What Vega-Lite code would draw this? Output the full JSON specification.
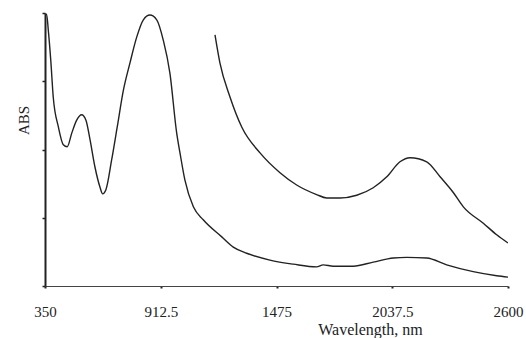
{
  "$schema": "https://vega.github.io/schema/vega-lite/v6.json",
  "autosize": "none",
  "padding": {"left": 45, "top": 13, "right": 18, "bottom": 52},
  "width": 463,
  "height": 273,
  "background": "white",
  "data": {
    "values": [
      {"wavelength": 350, "abs": 3.98, "series": "A"},
      {"wavelength": 358, "abs": 3.98, "series": "A"},
      {"wavelength": 366, "abs": 3.75, "series": "A"},
      {"wavelength": 378, "abs": 3.31, "series": "A"},
      {"wavelength": 390, "abs": 2.77, "series": "A"},
      {"wavelength": 415, "abs": 2.33, "series": "A"},
      {"wavelength": 439, "abs": 2.07, "series": "A"},
      {"wavelength": 458, "abs": 2.04, "series": "A"},
      {"wavelength": 480, "abs": 2.24, "series": "A"},
      {"wavelength": 504, "abs": 2.43, "series": "A"},
      {"wavelength": 528, "abs": 2.51, "series": "A"},
      {"wavelength": 549, "abs": 2.43, "series": "A"},
      {"wavelength": 569, "abs": 2.14, "series": "A"},
      {"wavelength": 593, "abs": 1.74, "series": "A"},
      {"wavelength": 617, "abs": 1.45, "series": "A"},
      {"wavelength": 630, "abs": 1.35, "series": "A"},
      {"wavelength": 646, "abs": 1.41, "series": "A"},
      {"wavelength": 674, "abs": 1.85, "series": "A"},
      {"wavelength": 701, "abs": 2.33, "series": "A"},
      {"wavelength": 731, "abs": 2.87, "series": "A"},
      {"wavelength": 763, "abs": 3.27, "series": "A"},
      {"wavelength": 796, "abs": 3.65, "series": "A"},
      {"wavelength": 828, "abs": 3.9, "series": "A"},
      {"wavelength": 860, "abs": 3.97, "series": "A"},
      {"wavelength": 893, "abs": 3.9, "series": "A"},
      {"wavelength": 925, "abs": 3.6, "series": "A"},
      {"wavelength": 957, "abs": 3.12, "series": "A"},
      {"wavelength": 990, "abs": 2.24, "series": "A"},
      {"wavelength": 1006, "abs": 1.95, "series": "A"},
      {"wavelength": 1030, "abs": 1.55, "series": "A"},
      {"wavelength": 1071, "abs": 1.16, "series": "A"},
      {"wavelength": 1119, "abs": 0.97, "series": "A"},
      {"wavelength": 1209, "abs": 0.72, "series": "A"},
      {"wavelength": 1265, "abs": 0.57, "series": "A"},
      {"wavelength": 1330, "abs": 0.48, "series": "A"},
      {"wavelength": 1443, "abs": 0.38, "series": "A"},
      {"wavelength": 1557, "abs": 0.32, "series": "A"},
      {"wavelength": 1670, "abs": 0.28, "series": "A"},
      {"wavelength": 1702, "abs": 0.31, "series": "A"},
      {"wavelength": 1751, "abs": 0.29, "series": "A"},
      {"wavelength": 1848, "abs": 0.29, "series": "A"},
      {"wavelength": 1945, "abs": 0.35, "series": "A"},
      {"wavelength": 2043, "abs": 0.41, "series": "A"},
      {"wavelength": 2108, "abs": 0.42, "series": "A"},
      {"wavelength": 2205, "abs": 0.41, "series": "A"},
      {"wavelength": 2302, "abs": 0.31, "series": "A"},
      {"wavelength": 2431, "abs": 0.21, "series": "A"},
      {"wavelength": 2545, "abs": 0.15, "series": "A"},
      {"wavelength": 2600, "abs": 0.13, "series": "A"},
      {"wavelength": 1176, "abs": 3.68, "series": "B"},
      {"wavelength": 1200, "abs": 3.27, "series": "B"},
      {"wavelength": 1249, "abs": 2.77, "series": "B"},
      {"wavelength": 1306, "abs": 2.33, "series": "B"},
      {"wavelength": 1395, "abs": 1.95, "series": "B"},
      {"wavelength": 1492, "abs": 1.66, "series": "B"},
      {"wavelength": 1573, "abs": 1.48, "series": "B"},
      {"wavelength": 1670, "abs": 1.34, "series": "B"},
      {"wavelength": 1719, "abs": 1.29, "series": "B"},
      {"wavelength": 1784, "abs": 1.29, "series": "B"},
      {"wavelength": 1865, "abs": 1.33, "series": "B"},
      {"wavelength": 1945, "abs": 1.44, "series": "B"},
      {"wavelength": 2011, "abs": 1.6, "series": "B"},
      {"wavelength": 2075, "abs": 1.82, "series": "B"},
      {"wavelength": 2124, "abs": 1.88, "series": "B"},
      {"wavelength": 2205, "abs": 1.82, "series": "B"},
      {"wavelength": 2270, "abs": 1.6, "series": "B"},
      {"wavelength": 2334, "abs": 1.37, "series": "B"},
      {"wavelength": 2383, "abs": 1.16, "series": "B"},
      {"wavelength": 2480, "abs": 0.92, "series": "B"},
      {"wavelength": 2545, "abs": 0.75, "series": "B"},
      {"wavelength": 2600, "abs": 0.63, "series": "B"}
    ]
  },
  "mark": {"type": "line", "interpolate": "monotone", "color": "#222222", "strokeWidth": 1.4, "clip": true},
  "encoding": {
    "x": {
      "field": "wavelength",
      "type": "quantitative",
      "scale": {"domain": [350, 2600], "nice": false, "zero": false},
      "axis": {
        "values": [350, 912.5, 1475, 2037.5, 2600],
        "labelExpr": "datum.value + ''",
        "grid": false,
        "title": "Wavelength, nm",
        "titleFont": "Liberation Serif",
        "titleFontSize": 16,
        "titleFontWeight": "normal",
        "titleColor": "#222222",
        "titleAnchor": "start",
        "titleAlign": "center",
        "titleX": 325,
        "titleY": 43,
        "titleBaseline": "middle",
        "labelFont": "Liberation Serif",
        "labelFontSize": 15,
        "labelColor": "#222222",
        "labelPadding": 16,
        "labelOverlap": false,
        "labelFlush": false,
        "domainColor": "#444444",
        "domainWidth": 1,
        "tickColor": "#222222",
        "tickSize": 2,
        "tickWidth": 2
      }
    },
    "y": {
      "field": "abs",
      "type": "quantitative",
      "scale": {"domain": [0, 4], "nice": false},
      "axis": {
        "values": [0, 1, 2, 3, 4],
        "labels": false,
        "grid": false,
        "title": "ABS",
        "titleFont": "Liberation Serif",
        "titleFontSize": 15,
        "titleFontWeight": "normal",
        "titleColor": "#222222",
        "titleX": -22,
        "titleY": 107,
        "titleAngle": -90,
        "titleAlign": "center",
        "titleBaseline": "middle",
        "domainColor": "#222222",
        "domainWidth": 2,
        "tickColor": "#222222",
        "tickSize": 3,
        "tickWidth": 1.5,
        "offset": 0
      }
    },
    "detail": {"field": "series", "type": "nominal"}
  },
  "config": {"view": {"stroke": null}}
}
